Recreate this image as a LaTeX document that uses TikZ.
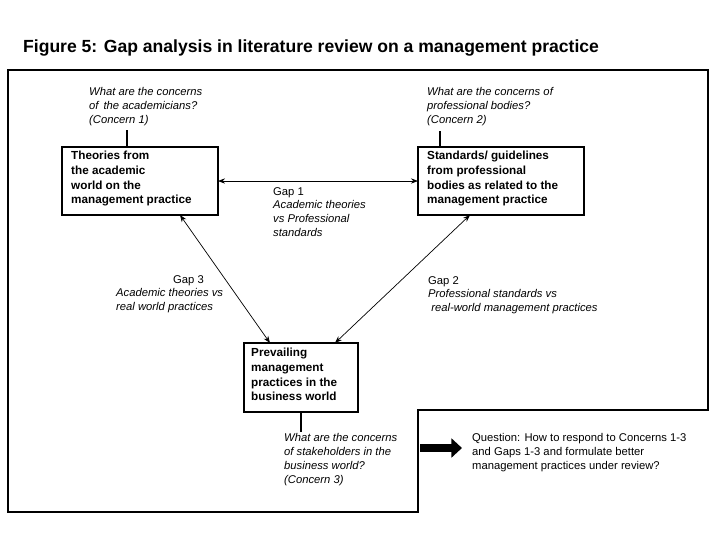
\documentclass[tikz,border=0pt]{standalone}
\usepackage{fontspec}
\setmainfont{Liberation Sans}
\usetikzlibrary{arrows.meta}
\begin{document}
\begin{tikzpicture}[x=0.03cm,y=-0.03cm,
 box/.style={draw,line width=1.1pt},
 lab/.style={font=\fontsize{9.6}{12}\selectfont,align=left,anchor=north west,inner sep=0pt},
 il/.style={lab,font=\fontsize{9.6}{12}\selectfont\itshape},
 bl/.style={lab,font=\fontsize{10}{12.5}\selectfont\bfseries},
 conn/.style={{Stealth[length=6pt]}-{Stealth[length=6pt]},line width=0.6pt}]
\useasboundingbox (0,0) rectangle (720,552);
\node[anchor=west,font=\fontsize{15}{17}\selectfont\bfseries] (title) at (19,48) {Figure 5: Gap analysis in literature review on a management practice};
\draw[line width=1pt] (8,70) -- (708,70) -- (708,410) -- (418,410) -- (418,512) -- (8,512) -- cycle;
\draw[box] (62,147) rectangle (218,215);
\node[bl] (b1) at (71,151) {Theories from\\the academic\\world on the\\management practice};
\coordinate (b1r) at (218,181); \coordinate (b1b) at (180,215); \coordinate (b1t) at (127,147);
\draw[box] (418,147) rectangle (584,215);
\node[bl] (b2) at (427,151) {Standards/ guidelines\\from professional\\bodies as related to the\\management practice};
\coordinate (b2l) at (418,181); \coordinate (b2b) at (470,215); \coordinate (b2t) at (440,147);
\draw[box] (244,343) rectangle (358,412);
\node[bl] (b3) at (251,348) {Prevailing\\management\\practices in the\\business world};
\coordinate (b3l) at (270,343); \coordinate (b3r) at (335,343); \coordinate (b3b) at (301,412);
\node[il] (c1) at (89,87) {What are the concerns\\of\, the academicians?\\(Concern 1)};
\node[il] (c2) at (427,87) {What are the concerns of\\professional bodies?\\(Concern 2)};
\node[il] (c3) at (284,433) {What are the concerns\\of stakeholders in the\\business world?\\(Concern 3)};
\coordinate (c1b) at (127,130); \coordinate (c2b) at (440,131); \coordinate (c3t) at (301,432);
\draw[line width=1pt] (b1t) -- (c1b); \draw[line width=1pt] (b2t) -- (c2b); \draw[line width=1pt] (b3b) -- (c3t);
\draw[conn] (b1r) -- (b2l);
\draw[conn] (b1b) -- (b3l);
\draw[conn] (b2b) -- (b3r);
\node[lab] (g1) at (273,187) {Gap 1}; \node[il] (g1t) at (273,200) {Academic theories\\vs Professional\\standards};
\node[lab] (g3) at (173,275) {Gap 3}; \node[il] (g3t) at (116,288) {Academic theories vs\\real world practices};
\node[lab] (g2) at (428,276) {Gap 2}; \node[il] (g2t) at (428,289) {Professional standards vs\\\ real-world management practices};
\coordinate (qa) at (420,448); \coordinate (qb) at (462,448);
\draw[line width=7pt,-{Triangle[length=9pt,width=16pt]}] (qa) -- (qb);
\node[lab] (q) at (472,433) {Question: How to respond to Concerns 1-3\\and Gaps 1-3 and formulate better\\management practices under review?};
\end{tikzpicture}
\end{document}
